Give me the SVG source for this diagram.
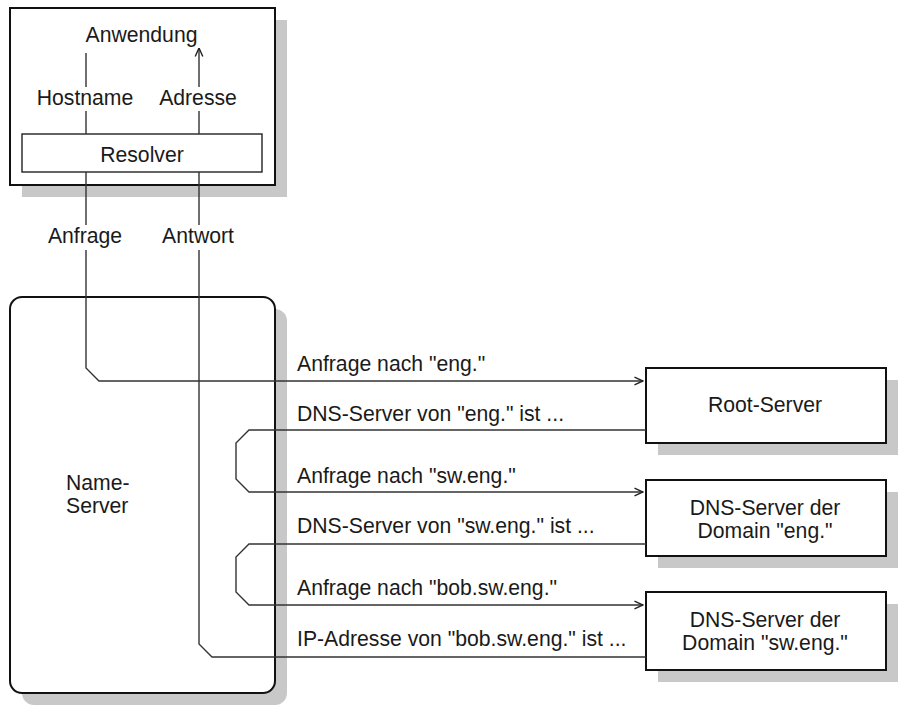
<svg xmlns="http://www.w3.org/2000/svg" width="911" height="710" viewBox="0 0 911 710">
<style>
text{font-family:"Liberation Sans",Arial,sans-serif;font-size:21.2px;fill:#1a1a1a}
.m{text-anchor:middle}
.box{fill:#fff;stroke:#111;stroke-width:2}
.sh{fill:#c8c8c8}
.ln{fill:none;stroke:#333;stroke-width:1.4}
</style>
<defs>
<marker id="ar" viewBox="0 0 10 10" refX="9.5" refY="5" markerWidth="10" markerHeight="10" markerUnits="userSpaceOnUse" orient="auto">
<path d="M1,1.2 L9.5,5 L1,8.8" fill="none" stroke="#222" stroke-width="1.4"/>
</marker>
</defs>
<g id="client">
<rect class="sh" x="22" y="20" width="265" height="177"/>
<rect class="box" x="10" y="8" width="265" height="177"/>
<text class="m" x="141.5" y="42">Anwendung</text>
<text class="m" x="85" y="105">Hostname</text>
<text class="m" x="198" y="105">Adresse</text>
</g>
<g id="resolver">
<rect fill="#fff" stroke="#222" stroke-width="1.4" x="22" y="134" width="240" height="38"/>
<text class="m" x="142" y="162">Resolver</text>
</g>
<g id="nameserver">
<rect class="sh" x="22" y="309" width="265" height="396" rx="12"/>
<rect class="box" x="10" y="297" width="265" height="396" rx="12"/>
<text x="66" y="490">Name-</text>
<text x="66" y="513">Server</text>
</g>
<g id="root">
<rect class="sh" x="658" y="380" width="240" height="75"/>
<rect class="box" x="646" y="368" width="240" height="75"/>
<text class="m" x="765" y="412">Root-Server</text>
</g>
<g id="dns-eng">
<rect class="sh" x="658" y="492" width="240" height="76"/>
<rect class="box" x="646" y="480" width="240" height="76"/>
<text class="m" x="765" y="515">DNS-Server der</text>
<text class="m" x="765" y="538">Domain "eng."</text>
</g>
<g id="dns-sweng">
<rect class="sh" x="658" y="604" width="240" height="78"/>
<rect class="box" x="646" y="592" width="240" height="78"/>
<text class="m" x="765" y="627">DNS-Server der</text>
<text class="m" x="765" y="650">Domain "sw.eng."</text>
</g>
<g id="connectors">
<path class="ln" d="M86,53 V87 M86,111 V134"/>
<path class="ln" d="M199,134 V111 M199,87 V48" marker-end="url(#ar)"/>
<path class="ln" d="M86,172 V225 M199,172 V225"/>
<path class="ln" d="M86,250 V368 L99,381 H643" marker-end="url(#ar)"/>
<path class="ln" d="M646,430 H249 L236,443 V479 L249,492 H643" marker-end="url(#ar)"/>
<path class="ln" d="M646,544 H249 L236,557 V592 L249,605 H643" marker-end="url(#ar)"/>
<path class="ln" d="M646,657 H212 L199,644 V250"/>
</g>
<g id="labels">
<text class="m" x="85" y="243">Anfrage</text>
<text class="m" x="198" y="243">Antwort</text>
<text x="297" y="371">Anfrage nach "eng."</text>
<text x="297" y="421">DNS-Server von "eng." ist ...</text>
<text x="297" y="483">Anfrage nach "sw.eng."</text>
<text x="297" y="533">DNS-Server von "sw.eng." ist ...</text>
<text x="297" y="595">Anfrage nach "bob.sw.eng."</text>
<text x="297" y="646">IP-Adresse von "bob.sw.eng." ist ...</text>
</g>
</svg>
